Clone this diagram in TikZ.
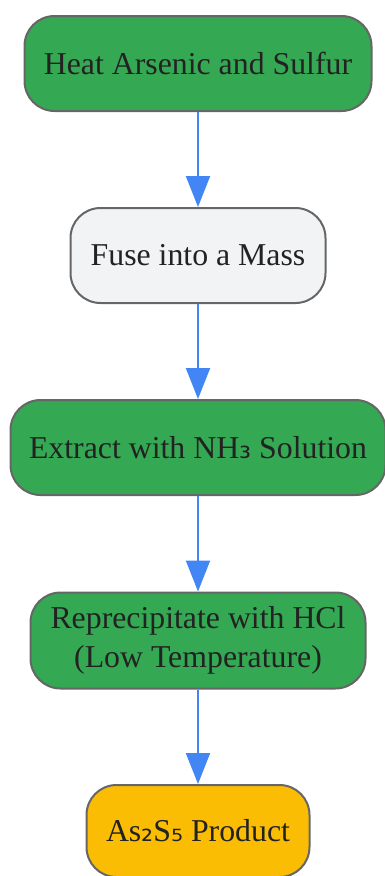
\documentclass[tikz,border=0pt]{standalone}
\usepackage{fontspec}
\setmainfont{Liberation Serif}
\newfontfamily\subfont{DejaVu Sans}
\usetikzlibrary{arrows.meta}

\definecolor{stepgreen}{HTML}{34A853}
\definecolor{stepgray}{HTML}{F1F3F4}
\definecolor{stepyellow}{HTML}{FBBC04}
\definecolor{edgeblue}{HTML}{4285F4}
\definecolor{rimgray}{HTML}{666666}
\definecolor{inkgray}{HTML}{222222}

\newcommand{\lowdigit}[1]{{\subfont\fontsize{30}{36}\selectfont #1}}

\tikzset{
  stepbox/.style={draw=rimgray, line width=2pt, rounded corners=30pt,
    text=inkgray, align=center, inner sep=0pt,
    font=\fontsize{31.8}{38}\selectfont},
  greenstep/.style={stepbox, fill=stepgreen},
  graystep/.style={stepbox, fill=stepgray},
  yellowstep/.style={stepbox, fill=stepyellow},
  flowarrow/.style={draw=edgeblue, line width=2pt,
    -{Triangle[length=31pt, width=24pt]}}
}

\begin{document}
\begin{tikzpicture}[x=1pt, y=-1pt]
  \useasboundingbox (0,0) rectangle (385,876);
  % process steps
  \node[greenstep, minimum width=347pt, minimum height=95pt] (heat) at (198,63.5) {Heat Arsenic and Sulfur};
  \node[graystep, minimum width=255pt, minimum height=95pt] (fuse) at (198,255.5) {Fuse into a Mass};
  \node[greenstep, minimum width=375pt, minimum height=95pt] (extract) at (198,447.5) {Extract with NH\lowdigit{₃} Solution};
  \node[greenstep, minimum width=335pt, minimum height=96pt] (reprec) at (198,640.5) {Reprecipitate with HCl\\[1pt](Low Temperature)};
  \node[yellowstep, minimum width=223pt, minimum height=92pt] (product) at (198,831) {As\lowdigit{₂}S\lowdigit{₅} Product};
  % arrows
  \draw[flowarrow] (heat) -- (fuse);
  \draw[flowarrow] (fuse) -- (extract);
  \draw[flowarrow] (extract) -- (reprec);
  \draw[flowarrow] (reprec) -- (product);
\end{tikzpicture}
\end{document}
